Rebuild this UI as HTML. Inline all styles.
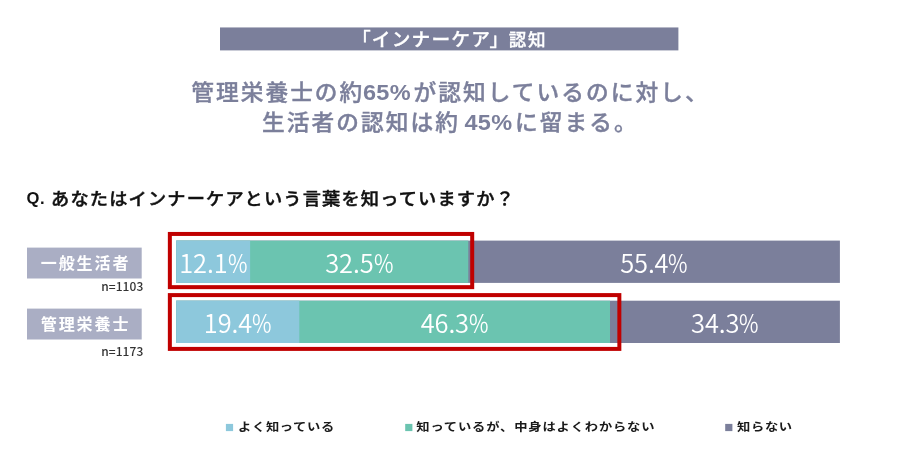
<!DOCTYPE html>
<html lang="ja">
<head>
<meta charset="utf-8">
<title>「インナーケア」認知</title>
<style>
html,body{margin:0;padding:0;background:#fff;}
body{width:900px;height:471px;position:relative;overflow:hidden;font-family:"Liberation Sans","Noto Sans CJK JP",sans-serif;}
.abs{position:absolute;white-space:nowrap;}
#title{left:351.9px;top:27.5px;height:23.3px;line-height:23.3px;color:#fff;-webkit-text-stroke:0.3px #fff;font-size:18.7px;font-weight:500;letter-spacing:1.2px;}
.head{transform:scaleY(0.955);transform-origin:0 50%;color:#7b7f9b;font-weight:500;-webkit-text-stroke:0.4px #7b7f9b;font-size:22.7px;line-height:29px;letter-spacing:2.05px;}
.lat{font-family:"Liberation Sans",sans-serif;font-weight:bold;-webkit-text-stroke:0;font-size:23.5px;letter-spacing:0.3px;margin:0 0.6px;}
#q{transform:scaleY(0.95);transform-origin:0 4px;left:51px;top:186.5px;font-size:18.2px;font-weight:500;-webkit-text-stroke:0.45px #111;color:#111;line-height:26px;letter-spacing:1.2px;}
#qq{left:26.5px;top:186px;font-size:16.6px;font-weight:bold;color:#111;line-height:26px;letter-spacing:0.6px;}
.lab{left:27px;width:114.6px;height:31.3px;color:#fff;font-weight:bold;font-size:16px;line-height:33.8px;text-indent:13.8px;letter-spacing:1.9px;}
.n{font-family:"Noto Sans CJK JP","Liberation Sans",sans-serif;font-weight:500;font-size:12px;color:#333;line-height:14px;letter-spacing:0.05px;}
.seg{height:42.3px;}
.val{color:#fff;font-family:"Noto Sans CJK JP","Liberation Sans",sans-serif;font-weight:350;font-size:25.4px;line-height:42.3px;text-align:center;letter-spacing:-0.1px;}
.val span{display:inline-block;position:relative;top:0;left:0;}
.val i{font-style:normal;display:inline-block;transform:scaleX(0.84);transform-origin:0 50%;margin-right:-3.6px;}
.lg{font-size:13.3px;font-weight:bold;color:#1a1a1a;line-height:20px;letter-spacing:0.65px;transform:scaleY(0.87);transform-origin:0 15.7px;}
</style>
</head>
<body>
<svg class="abs" style="left:0;top:0" width="900" height="471" viewBox="0 0 900 471">
<rect x="220" y="27.45" width="458.4" height="22.95" fill="#7b7f9b"/>
<rect x="27" y="247.6" width="114.7" height="30.9" fill="#aaaec4"/>
<rect x="27" y="308.6" width="114.7" height="30.9" fill="#aaaec4"/>
<rect x="176.2" y="240.6" width="663.7" height="42.3" fill="#7b7f9b"/>
<rect x="176.2" y="240.6" width="292.1" height="42.3" fill="#6bc4b0"/>
<rect x="176.2" y="240.6" width="73.9" height="42.3" fill="#8dc8dc"/>
<rect x="176.2" y="300.7" width="663.7" height="42.3" fill="#7b7f9b"/>
<rect x="176.2" y="300.7" width="433.8" height="42.3" fill="#6bc4b0"/>
<rect x="176.2" y="300.7" width="123.1" height="42.3" fill="#8dc8dc"/>
<rect x="169.85" y="233.95" width="302.35" height="53.2" fill="none" stroke="#c00000" stroke-width="4"/>
<rect x="169.85" y="295.1" width="449.5" height="53.8" fill="none" stroke="#c00000" stroke-width="4"/>
<rect x="225.9" y="423.9" width="7.2" height="7.2" fill="#8dc8dc"/>
<rect x="405.2" y="423.9" width="7.2" height="7.2" fill="#6bc4b0"/>
<rect x="725.2" y="423.9" width="7.2" height="7.2" fill="#7b7f9b"/>
</svg>
<div class="abs" id="title">「インナーケア<span style="margin-left:-1.6px">」</span><span style="margin-left:-0.6px;letter-spacing:1.6px;font-size:17.6px">認知</span></div>

<div class="abs head" style="left:191.2px;top:78.2px;">管理栄養士の約<span class="lat" style="margin-left:-1.4px;margin-right:2.6px">65%</span>が認知しているのに対し、</div>
<div class="abs head" style="left:262px;top:107.8px;">生活者の認知は約<span class="lat" style="margin-left:4.5px;margin-right:2.6px">45%</span>に留まる。</div>

<div class="abs" id="qq">Q.</div>
<div class="abs" id="q">あなたはインナーケアという言葉を知っていますか？</div>

<div class="abs lab" style="top:247.4px;">一般生活者</div>
<div class="abs n" style="left:101.3px;top:279.0px;">n=1103</div>
<div class="abs lab" style="top:308.3px;">管理栄養士</div>
<div class="abs n" style="left:101.3px;top:344.4px;">n=1173</div>

<!-- row 1 -->
<div class="abs seg blue val" style="left:176.2px;top:240.6px;width:73.9px;"><span>12.1<i>%</i></span></div>
<div class="abs seg teal val" style="left:250.1px;top:240.6px;width:218.1px;"><span>32.5<i>%</i></span></div>
<div class="abs seg grey val" style="left:468.2px;top:240.6px;width:371.8px;"><span>55.4<i>%</i></span></div>
<!-- row 2 -->
<div class="abs seg blue val" style="left:176.2px;top:300.7px;width:123px;"><span>19.4<i>%</i></span></div>
<div class="abs seg teal val" style="left:299.2px;top:300.7px;width:310.8px;"><span>46.3<i>%</i></span></div>
<div class="abs seg grey val" style="left:610px;top:300.7px;width:230px;"><span>34.3<i>%</i></span></div>


<!-- legend -->
<div class="abs lg" style="left:238px;top:417px;">よく知っている</div>
<div class="abs lg" style="left:416.3px;top:417px;letter-spacing:0.82px">知っているが、中身はよくわからない</div>
<div class="abs lg" style="left:737px;top:417px;">知らない</div>
</body>
</html>
